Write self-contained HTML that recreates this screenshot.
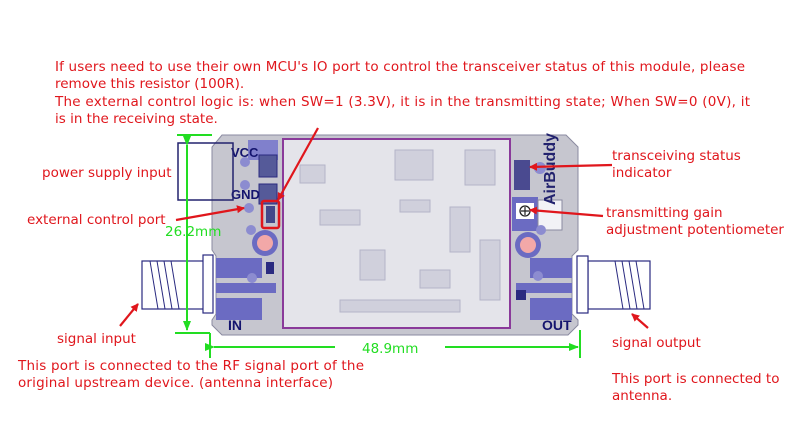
<!DOCTYPE html>
<html><head><meta charset="utf-8"><style>
html,body{margin:0;padding:0;background:#fff;width:800px;height:437px;overflow:hidden}
svg{display:block}
.r{fill:#e0161c;font-family:"DejaVu Sans",Verdana,sans-serif;font-size:13.5px}
.g{fill:#22dd22;font-family:"DejaVu Sans",sans-serif;font-size:13.5px}
.b{fill:#14146e;font-family:"Liberation Sans",sans-serif;font-weight:bold}
</style></head><body>
<svg width="800" height="437" viewBox="0 0 800 437" xmlns="http://www.w3.org/2000/svg">
<defs>
<marker id="ra" markerWidth="8" markerHeight="8" refX="7" refY="4" orient="auto" markerUnits="userSpaceOnUse"><path d="M0,0 L8,4 L0,8 Z" fill="#e0161c"/></marker>
<marker id="ga" markerWidth="10" markerHeight="8" refX="9" refY="4" orient="auto" markerUnits="userSpaceOnUse"><path d="M0,0 L10,4 L0,8 Z" fill="#22dd22"/></marker>
</defs>
<text class="r" x="55" y="71" textLength="690">If users need to use their own MCU's IO port to control the transceiver status of this module, please</text>
<text class="r" x="55" y="88">remove this resistor (100R).</text>
<text class="r" x="55" y="106" textLength="695">The external control logic is: when SW=1 (3.3V), it is in the transmitting state; When SW=0 (0V), it</text>
<text class="r" x="55" y="123">is in the receiving state.</text>

<rect x="142" y="261" width="62" height="48" fill="#fff" stroke="#2a2a80" stroke-width="1.2"/>
<g stroke="#2a2a80" stroke-width="1"><line x1="150" y1="261" x2="158" y2="309"/><line x1="157" y1="261" x2="165" y2="309"/><line x1="164" y1="261" x2="172" y2="309"/><line x1="171" y1="261" x2="179" y2="309"/></g>
<rect x="203" y="255" width="10" height="58" fill="#fff" stroke="#2a2a80" stroke-width="1.2"/>
<rect x="588" y="261" width="62" height="48" fill="#fff" stroke="#2a2a80" stroke-width="1.2"/>
<g stroke="#2a2a80" stroke-width="1"><line x1="615" y1="261" x2="623" y2="309"/><line x1="622" y1="261" x2="630" y2="309"/><line x1="629" y1="261" x2="637" y2="309"/><line x1="636" y1="261" x2="644" y2="309"/></g>
<rect x="577" y="256" width="11" height="57" fill="#fff" stroke="#2a2a80" stroke-width="1.2"/>

<path d="M222,135 L566,135 L578,147 L578,250 L572,256 L572,314 L578,320 L578,325 L568,335 L222,335 L212,325 L212,320 L216,314 L216,256 L212,250 L212,147 Z" fill="#c6c6cf" stroke="#8a8aa0" stroke-width="1"/>
<rect x="216" y="258" width="46" height="20" fill="#6b6bc2"/>
<rect x="216" y="283" width="60" height="10" fill="#6b6bc2"/>
<rect x="216" y="298" width="46" height="22" fill="#6b6bc2"/>
<rect x="248" y="140" width="30" height="20" fill="#8080cc"/>
<rect x="259" y="155" width="18" height="22" fill="#555a99" stroke="#2a2a80"/>
<rect x="259" y="184" width="18" height="20" fill="#555a99" stroke="#2a2a80"/>
<circle cx="245" cy="162" r="5" fill="#8c8cd0"/><circle cx="245" cy="185" r="5" fill="#8c8cd0"/>
<circle cx="249" cy="208" r="5" fill="#8c8cd0"/><circle cx="251" cy="230" r="5" fill="#8c8cd0"/>
<circle cx="265" cy="243" r="13" fill="#6b6bc2"/><circle cx="265" cy="243" r="8" fill="#f2a8a8"/>
<circle cx="252" cy="278" r="5" fill="#8c8cd0"/>
<rect x="266" y="262" width="8" height="12" fill="#2a2a80"/>
<rect x="530" y="258" width="42" height="20" fill="#6b6bc2"/>
<rect x="516" y="283" width="56" height="10" fill="#6b6bc2"/>
<rect x="530" y="298" width="42" height="22" fill="#6b6bc2"/>
<rect x="514" y="160" width="16" height="30" fill="#4a4a90"/>
<rect x="512" y="197" width="26" height="34" fill="#6b6bc2"/>
<rect x="516" y="203" width="18" height="16" fill="#fff"/>
<circle cx="525" cy="211" r="5" fill="none" stroke="#222" stroke-width="1.3"/>
<path d="M521,211 h8 M525,207 v8" stroke="#222" stroke-width="1.2"/>
<rect x="538" y="200" width="24" height="30" fill="#f2f2f6" stroke="#8a8aa0"/>
<circle cx="540" cy="168" r="6" fill="#8c8cd0"/><circle cx="541" cy="230" r="5" fill="#8c8cd0"/>
<circle cx="528" cy="245" r="13" fill="#6b6bc2"/><circle cx="528" cy="245" r="8" fill="#f2a8a8"/>
<circle cx="538" cy="276" r="5" fill="#8c8cd0"/>
<rect x="516" y="290" width="10" height="10" fill="#2a2a80"/>
<text class="b" x="555" y="205" font-size="16" transform="rotate(-90 555 205)" style="fill:#22226e">AirBuddy</text>
<text class="b" x="228" y="330" font-size="14">IN</text>
<text class="b" x="542" y="330" font-size="14">OUT</text>
<text class="b" x="231" y="157" font-size="13">VCC</text>
<text class="b" x="231" y="199" font-size="13">GND</text>
<rect x="283" y="139" width="227" height="189" fill="#e4e4ea" stroke="#8a3a9a" stroke-width="2"/>
<g fill="#d0d0dc" stroke="#b4b4c8" stroke-width="1">
<rect x="395" y="150" width="38" height="30"/><rect x="465" y="150" width="30" height="35"/>
<rect x="450" y="207" width="20" height="45"/><rect x="300" y="165" width="25" height="18"/>
<rect x="320" y="210" width="40" height="15"/><rect x="420" y="270" width="30" height="18"/>
<rect x="340" y="300" width="120" height="12"/><rect x="480" y="240" width="20" height="60"/>
<rect x="360" y="250" width="25" height="30"/><rect x="400" y="200" width="30" height="12"/>
</g>
<rect x="262" y="201" width="17" height="27" fill="none" stroke="#e0161c" stroke-width="2.5" rx="2"/>
<rect x="266" y="206" width="9" height="17" fill="#44488a"/>
<rect x="178" y="143" width="55" height="57" fill="none" stroke="#22226e" stroke-width="1.5"/>

<g stroke="#22dd22" stroke-width="2" fill="none">
<line x1="177" y1="135" x2="212" y2="135"/>
<line x1="187" y1="145" x2="187" y2="330" marker-start="url(#ga)" marker-end="url(#ga)"/>
<line x1="175" y1="333" x2="210" y2="333"/>
<line x1="210" y1="333" x2="210" y2="358"/>
<line x1="580" y1="330" x2="580" y2="358"/>
<line x1="214" y1="347" x2="335" y2="347" marker-start="url(#ga)"/>
<line x1="445" y1="347" x2="578" y2="347" marker-end="url(#ga)"/>
</g>
<text class="g" x="165" y="236">26.2mm</text>
<text class="g" x="362" y="353">48.9mm</text>

<g stroke="#e0161c" stroke-width="2.2" fill="none">
<line x1="318" y1="128" x2="278" y2="200" marker-end="url(#ra)"/>
<line x1="176" y1="220" x2="244" y2="208" marker-end="url(#ra)"/>
<line x1="612" y1="165" x2="530" y2="167" marker-end="url(#ra)"/>
<line x1="603" y1="216" x2="530" y2="210" marker-end="url(#ra)"/>
<line x1="120" y1="326" x2="138" y2="304" marker-end="url(#ra)"/>
<line x1="648" y1="328" x2="632" y2="314" marker-end="url(#ra)"/>
</g>

<text class="r" x="42" y="177">power supply input</text>
<text class="r" x="27" y="224">external control port</text>
<text class="r" x="612" y="160">transceiving status</text>
<text class="r" x="612" y="177">indicator</text>
<text class="r" x="606" y="217">transmitting gain</text>
<text class="r" x="606" y="234">adjustment potentiometer</text>
<text class="r" x="57" y="343">signal input</text>
<text class="r" x="612" y="347">signal output</text>
<text class="r" x="18" y="370" textLength="346">This port is connected to the RF signal port of the</text>
<text class="r" x="18" y="387" textLength="315">original upstream device. (antenna interface)</text>
<text class="r" x="612" y="383">This port is connected to</text>
<text class="r" x="612" y="400">antenna.</text>
</svg>
</body></html>
